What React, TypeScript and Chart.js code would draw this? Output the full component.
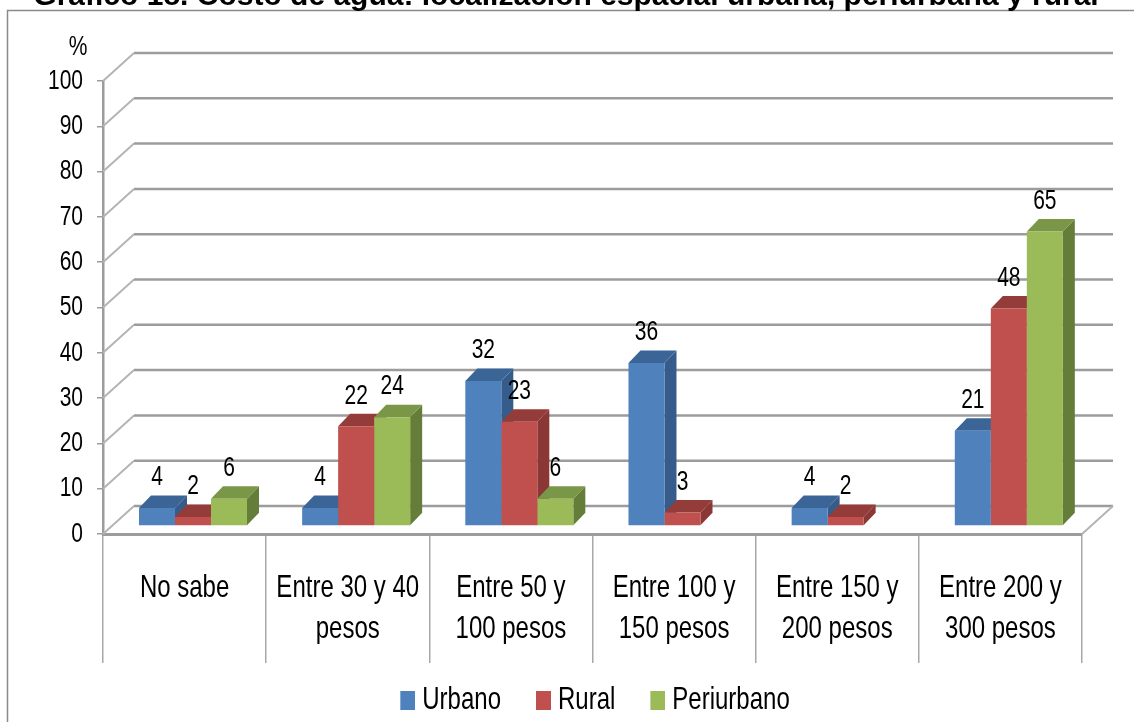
import React, { useEffect, useRef } from "react";
import { Chart, registerables } from "chart.js";

Chart.register(...registerables);

const titleText = "Gráfico 18. Costo de agua: localización espacial urbana, periurbana y rural";
const categories = [
  ["No sabe"],
  ["Entre 30 y 40", "pesos"],
  ["Entre 50 y", "100 pesos"],
  ["Entre 100 y", "150 pesos"],
  ["Entre 150 y", "200 pesos"],
  ["Entre 200 y", "300 pesos"],
];
const urbano = [4, 4, 32, 36, 4, 21];
const rural = [2, 22, 23, 3, 2, 48];
const periurbano = [6, 24, 6, null, null, 65];
const seriesNames = ["Urbano", "Rural", "Periurbano"];
const frontColors = ["#4F81BD", "#C0504D", "#9BBB59"];
const topColors = ["#3B6597", "#943C3A", "#7A9647"];
const sideColors = ["#355C8B", "#8A3735", "#647D39"];

const FONT = '"Liberation Sans", Arial, sans-serif';
const GRID = "#9C9C9C";
const WALL_DX = 31;
const WALL_DY = 28;
const BAR_SHIFT_X = 8.4;
const BAR_SHIFT_Y = -8;
const DEPTH_X = 12;
const DEPTH_Y = 12.5;
const NARROW = 0.75;
const TITLE_SHIFT = 25;

// The reference's text is horizontally squeezed; there is no condensed face installed.
const squeezeText = (ctx: any) => {
  const fill = ctx.fillText.bind(ctx);
  const measure = ctx.measureText.bind(ctx);
  const isBold = () => /bold|700/.test(ctx.font);
  ctx.fillText = (text: string, x: number, y: number, mw?: number) => {
    if (isBold()) {
      fill(text, x + TITLE_SHIFT, y, mw);
      return;
    }
    ctx.save();
    ctx.translate(x, y);
    ctx.scale(NARROW, 1);
    fill(text, 0, 0);
    ctx.restore();
  };
  ctx.measureText = (text: string) => {
    const w = measure(text).width;
    return { width: isBold() ? w : w * NARROW };
  };
};

const poly = (ctx: CanvasRenderingContext2D, pts: number[][], fill: string) => {
  ctx.beginPath();
  pts.forEach(([x, y], i) => (i ? ctx.lineTo(x, y) : ctx.moveTo(x, y)));
  ctx.closePath();
  ctx.fillStyle = fill;
  ctx.fill();
};

const frame3d = {
  id: "frame3d",
  beforeDraw(chart: any) {
    const { ctx } = chart;
    chart.legend.left = chart.chartArea.left + 10;
    ctx.save();
    ctx.strokeStyle = "#8A8A8A";
    ctx.lineWidth = 1.5;
    ctx.strokeRect(7.5, 10.5, 1300, 900);
    ctx.restore();
  },
  beforeDatasetsDraw(chart: any) {
    const { ctx, chartArea, scales } = chart;
    const y = scales.y;
    ctx.save();
    y.ticks.forEach((t: any) => {
      const py = y.getPixelForValue(t.value);
      ctx.strokeStyle = "#B4B4B4";
      ctx.lineWidth = 2;
      ctx.beginPath();
      ctx.moveTo(chartArea.left, py);
      ctx.lineTo(chartArea.left + WALL_DX, py - WALL_DY);
      ctx.stroke();
      ctx.strokeStyle = GRID;
      ctx.lineWidth = 2.5;
      ctx.beginPath();
      ctx.moveTo(chartArea.left + WALL_DX, py - WALL_DY);
      ctx.lineTo(chartArea.right + WALL_DX, py - WALL_DY);
      ctx.stroke();
    });
    const y0 = y.getPixelForValue(0);
    ctx.strokeStyle = "#B4B4B4";
    ctx.lineWidth = 2;
    ctx.beginPath();
    ctx.moveTo(chartArea.right, y0);
    ctx.lineTo(chartArea.right + WALL_DX, y0 - WALL_DY);
    ctx.stroke();

    // side and top faces, left to right; the native bars paint the front faces over them
    ctx.translate(BAR_SHIFT_X, BAR_SHIFT_Y);
    const metas = chart.data.datasets.map((_: any, di: number) => chart.getDatasetMeta(di));
    metas.forEach((meta: any, di: number) => {
      const values = chart.data.datasets[di].data;
      meta.data.forEach((el: any, i: number) => {
        if (!Number.isFinite(values[i])) return;
        const l = el.x - el.width / 2;
        const r = el.x + el.width / 2;
        const t = el.y;
        const b = el.base;
        poly(ctx, [[r, t], [r, b], [r + DEPTH_X, b - DEPTH_Y], [r + DEPTH_X, t - DEPTH_Y]], sideColors[di]);
        poly(ctx, [[l, t], [r, t], [r + DEPTH_X, t - DEPTH_Y], [l + DEPTH_X, t - DEPTH_Y]], topColors[di]);
      });
    });
    ctx.restore();
  },
  beforeDatasetDraw(chart: any) {
    chart.ctx.save();
    chart.ctx.translate(BAR_SHIFT_X, BAR_SHIFT_Y);
  },
  afterDatasetDraw(chart: any) {
    chart.ctx.restore();
  },
  afterDatasetsDraw(chart: any) {
    const { ctx } = chart;
    ctx.save();
    ctx.fillStyle = "#000";
    ctx.font = `28px ${FONT}`;
    ctx.textAlign = "center";
    ctx.textBaseline = "middle";
    chart.data.datasets.forEach((ds: any, di: number) => {
      chart.getDatasetMeta(di).data.forEach((el: any, i: number) => {
        if (!Number.isFinite(ds.data[i])) return;
        ctx.fillText(String(ds.data[i]), el.x + BAR_SHIFT_X, el.y + BAR_SHIFT_Y - DEPTH_Y - 18);
      });
    });
    ctx.fillText("%", 78, 47);
    ctx.restore();
  },
};

const legendSwatch = (color: string) => {
  const c = document.createElement("canvas");
  c.width = 19;
  c.height = 19;
  const g = c.getContext("2d")!;
  g.fillStyle = color;
  g.fillRect(4, 0, 15, 19);
  return c;
};

export default function App() {
  const ref = useRef<HTMLCanvasElement>(null);
  useEffect(() => {
    const canvas = ref.current!;
    squeezeText(canvas.getContext("2d"));
    const chart = new Chart(canvas, {
      type: "bar",
      data: {
        labels: categories as any,
        datasets: [urbano, rural, periurbano].map((data, i) => ({
          label: seriesNames[i],
          data,
          backgroundColor: frontColors[i],
          categoryPercentage: 0.662,
          barPercentage: 1,
        })) as any,
      },
      options: {
        animation: false,
        responsive: false,
        layout: { padding: { left: 0, right: 52, top: 0, bottom: -4 } },
        plugins: {
          title: {
            display: true,
            text: titleText,
            color: "#000",
            font: { family: FONT, size: 30, weight: "bold", lineHeight: 1.2 },
            padding: { top: -21, bottom: 66 },
          },
          legend: {
            position: "bottom",
            fullSize: false,
            labels: {
              color: "#000",
              font: { family: FONT, size: 32 },
              usePointStyle: true,
              boxWidth: 1,
              boxHeight: 19,
              padding: 40,
              generateLabels: (c: any) =>
                (Chart.defaults.plugins.legend.labels as any).generateLabels(c).map((it: any, i: number) => ({
                  ...it,
                  pointStyle: legendSwatch(frontColors[i]),
                })),
            },
          },
          tooltip: { enabled: false },
        },
        scales: {
          x: {
            afterFit: (s: any) => { s.height = 110; },
            border: { color: GRID, width: 3 },
            grid: { drawOnChartArea: false, drawTicks: true, tickLength: 129, color: "#A8A8A8", lineWidth: 1.5 },
            ticks: {
              color: "#000",
              autoSkip: false,
              maxRotation: 0,
              minRotation: 0,
              padding: -95,
              font: { family: FONT, size: 32, lineHeight: 1.28 },
            },
          },
          y: {
            min: 0,
            max: 100,
            afterFit: (s: any) => { s.width = 103; },
            border: { color: GRID, width: 2.5 },
            grid: { drawOnChartArea: false, drawTicks: true, tickLength: 6, color: GRID, lineWidth: 1.5 },
            ticks: { stepSize: 10, color: "#000", padding: 14, font: { family: FONT, size: 28 } },
          },
        },
      },
      plugins: [frame3d],
    } as any);
    return () => chart.destroy();
  }, []);
  return (
    <div style={{ position: "absolute", left: 0, top: 0, width: 1134, height: 722, overflow: "hidden" }}>
      <canvas ref={ref} width={1134} height={722} style={{ display: "block" }} />
    </div>
  );
}
